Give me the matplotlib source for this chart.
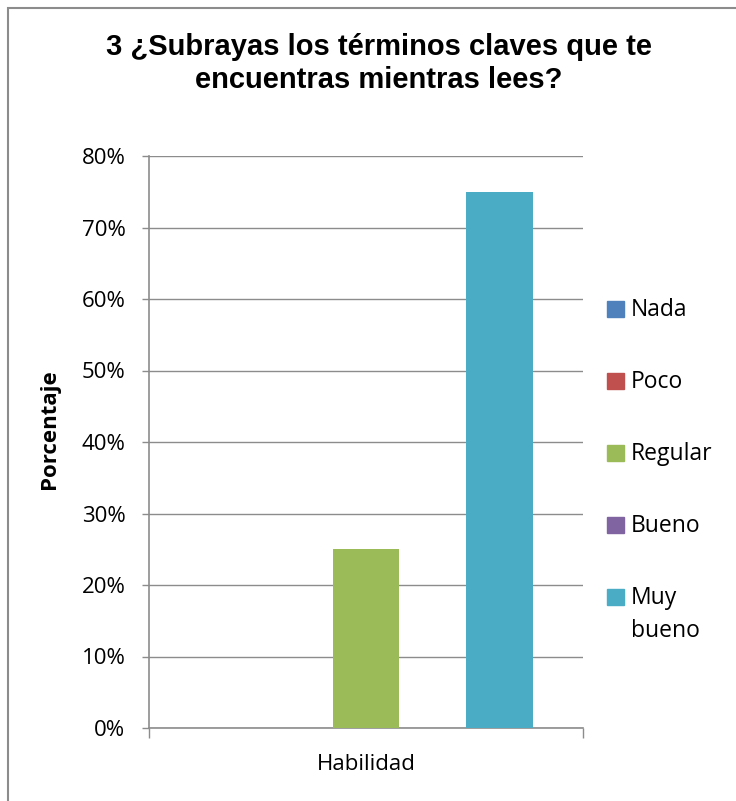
import matplotlib.pyplot as plt
from matplotlib.patches import Rectangle
from matplotlib.ticker import FuncFormatter

# data
categories = ["Habilidad"]
series = ["Nada", "Poco", "Regular", "Bueno", "Muy\nbueno"]
values = [0.0, 0.0, 0.25, 0.0, 0.75]
colors = ["#4F81BD", "#C0504D", "#9BBB59", "#8064A2", "#4BACC6"]
title_lines = ["3 ¿Subrayas los términos claves que te", "encuentras mientras lees?"]

W, H = 736, 801
GRID = "#8C8C8C"
FONT = "Open Sans"

fig = plt.figure(figsize=(W / 100, H / 100), dpi=100)

# outer chart frame (clipped at right/bottom like the source)
fig.add_artist(Rectangle((8 / W, -0.05), 1.1, 1 - 8 / H + 0.05, transform=fig.transFigure,
                         fill=False, edgecolor=GRID, linewidth=1.5))

ax = fig.add_axes([149 / W, 1 - 728 / H, 434 / W, 572 / H])

# 5 bars in one category, excel default gap width 150%
w = 1 / 6.5
for i, (name, v) in enumerate(zip(series, values)):
    ax.bar(0 + (i - 2) * w, v, width=w, color=colors[i], zorder=3, label=name)

ax.set_xlim(-0.5, 0.5)
ax.set_ylim(0, 0.8)
ax.set_yticks([i / 10 for i in range(9)])
ax.yaxis.set_major_formatter(FuncFormatter(lambda y, _: f"{y * 100:.0f}%"))
ax.grid(axis="y", color=GRID, linewidth=1, zorder=0)

ax.set_xticks([-0.5, 0.5])
ax.set_xticklabels(["", ""])
ax.set_xticks([0], minor=True)
ax.set_xticklabels(categories, minor=True, fontsize=16, family=FONT)
ax.tick_params(axis="x", which="major", length=7, color=GRID, width=1)
ax.tick_params(axis="x", which="minor", length=0, pad=19)
ax.tick_params(axis="y", length=5, color=GRID, width=1, pad=12, labelsize=16)
for lab in ax.get_yticklabels():
    lab.set_family(FONT)

for s in ["top", "right"]:
    ax.spines[s].set_visible(False)
for s in ["left", "bottom"]:
    ax.spines[s].set_color(GRID)
    ax.spines[s].set_linewidth(1.2)

fig.text(50 / W, 1 - 429 / H, "Porcentaje", rotation=90, ha="center", va="center",
         fontsize=16, fontweight="bold", family=FONT)

for line, base in zip(title_lines, [55, 88]):
    fig.text(379 / W, 1 - base / H, line, ha="center", va="baseline",
             fontsize=21, fontweight="bold", family="Liberation Sans")

# legend drawn by hand so the swatch sits beside the first line of a wrapped label
leg_y = [309, 381, 453, 525, 597]
for name, c, y in zip(series, colors, leg_y):
    fig.add_artist(Rectangle((607 / W, 1 - (y + 8) / H), 17 / W, 16 / H,
                             transform=fig.transFigure, color=c))
    for k, part in enumerate(name.split("\n")):
        fig.text(631 / W, 1 - (y + 7 + 33 * k) / H, part, ha="left", va="baseline",
                 fontsize=16.5, family=FONT)

fig.savefig("out.png", dpi=100)
